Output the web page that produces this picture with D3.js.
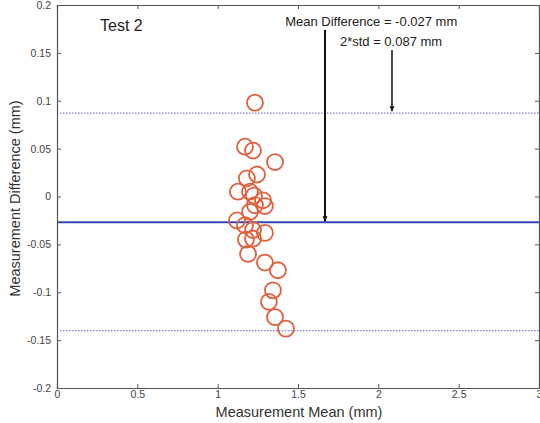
<!DOCTYPE html>
<html>
<head>
<meta charset="utf-8">
<script src="https://cdn.jsdelivr.net/npm/d3@7"></script>
<style>
  body { margin: 0; background: #fff; }
  text { font-family: "Liberation Sans", Arial, sans-serif; }
</style>
</head>
<body>
<div id="chart"></div>
<script>
// Bland-Altman style plot, Test 2
var meanX = [1.232, 1.170, 1.220, 1.357, 1.245, 1.182, 1.126, 1.201, 1.226, 1.282, 1.294, 1.232, 1.201,
             1.120, 1.170, 1.220, 1.294, 1.176, 1.220, 1.189, 1.294, 1.375, 1.344, 1.319, 1.357, 1.425];
var diffY = [0.098, 0.052, 0.048, 0.036, 0.023, 0.019, 0.005, 0.005, 0.001, -0.004, -0.010, -0.009, -0.016,
             -0.025, -0.030, -0.035, -0.038, -0.045, -0.044, -0.060, -0.069, -0.077, -0.098, -0.110, -0.126, -0.138];
var meanDiff = -0.027;
var limits = [0.087, -0.14];
var xTicks = [0, 0.5, 1, 1.5, 2, 2.5, 3];
var yTicks = [-0.2, -0.15, -0.1, -0.05, 0, 0.05, 0.1, 0.15, 0.2];

var width = 540, height = 423;
var margin = {top: 5, right: 1, bottom: 35, left: 57};

var xScale = d3.scaleLinear().domain([0, 3]).range([margin.left, width - margin.right]);
var yScale = d3.scaleLinear().domain([-0.2, 0.2]).range([height - margin.bottom, margin.top]);

var svg = d3.select("#chart").append("svg")
  .attr("width", width)
  .attr("height", height);

svg.append("defs").append("marker")
  .attr("id", "head")
  .attr("viewBox", "0 0 10 10")
  .attr("refX", 10).attr("refY", 5)
  .attr("markerWidth", 5).attr("markerHeight", 6)
  .attr("markerUnits", "userSpaceOnUse")
  .attr("orient", "auto")
  .append("path").attr("d", "M0,0 L10,5 L0,10 z").attr("fill", "#111");

// axes (matlab box style, ticks inside)
var axisColor = "#555";
var tickLen = 4;
function styleAxis(g) {
  g.select(".domain").attr("stroke", axisColor).attr("stroke-width", 1.2);
  g.selectAll(".tick line").attr("stroke", axisColor);
  g.selectAll(".tick text").attr("fill", "#444").style("font-size", "10.5px");
}

svg.append("g")
  .attr("transform", "translate(0," + yScale(-0.2) + ")")
  .call(d3.axisBottom(xScale).tickValues(xTicks).tickSize(-tickLen).tickPadding(3)
    .tickFormat(function(d) { return d; }))
  .call(styleAxis);

svg.append("g")
  .attr("transform", "translate(0," + yScale(0.2) + ")")
  .call(d3.axisTop(xScale).tickValues(xTicks).tickSize(-tickLen).tickFormat(""))
  .call(styleAxis);

svg.append("g")
  .attr("transform", "translate(" + xScale(0) + ",0)")
  .call(d3.axisLeft(yScale).tickValues(yTicks).tickSize(-tickLen).tickPadding(6)
    .tickFormat(function(d) { return d; }))
  .call(styleAxis);

svg.append("g")
  .attr("transform", "translate(" + xScale(3) + ",0)")
  .call(d3.axisRight(yScale).tickValues(yTicks).tickSize(-tickLen).tickFormat(""))
  .call(styleAxis);

// limit lines
svg.selectAll(".limit")
  .data(limits)
  .enter().append("line")
  .attr("class", "limit")
  .attr("x1", xScale(0) + 3).attr("x2", xScale(3))
  .attr("y1", function(d) { return yScale(d); })
  .attr("y2", function(d) { return yScale(d); })
  .attr("stroke", "#6a6ae0")
  .attr("stroke-width", 1.3)
  .attr("stroke-dasharray", "1.5 1.5")
  .attr("opacity", 0.85);

// mean line
svg.append("line")
  .attr("x1", xScale(0)).attr("x2", xScale(3))
  .attr("y1", yScale(meanDiff)).attr("y2", yScale(meanDiff))
  .attr("stroke", "#3348b8")
  .attr("stroke-width", 2);

// points
svg.selectAll(".pt")
  .data(meanX)
  .enter().append("circle")
  .attr("class", "pt")
  .attr("cx", function(d) { return xScale(d); })
  .attr("cy", function(d, i) { return yScale(diffY[i]); })
  .attr("r", 8)
  .attr("fill", "none")
  .attr("stroke", "#e0603c")
  .attr("stroke-width", 1.8);

// arrows
svg.append("line")
  .attr("x1", xScale(1.668)).attr("x2", xScale(1.668))
  .attr("y1", yScale(0.174)).attr("y2", yScale(meanDiff) - 1)
  .attr("stroke", "#111").attr("stroke-width", 2)
  .attr("marker-end", "url(#head)");

svg.append("line")
  .attr("x1", xScale(2.085)).attr("x2", xScale(2.085))
  .attr("y1", yScale(0.153)).attr("y2", yScale(limits[0]) - 2)
  .attr("stroke", "#111").attr("stroke-width", 1.5)
  .attr("marker-end", "url(#head)");

// texts
svg.append("text")
  .attr("x", xScale(0.268)).attr("y", yScale(0.173))
  .style("font-size", "16px").attr("fill", "#222")
  .text("Test 2");

svg.append("text")
  .attr("x", xScale(1.42)).attr("y", yScale(0.178))
  .style("font-size", "13px").attr("fill", "#222")
  .text("Mean Difference = -0.027 mm");

svg.append("text")
  .attr("x", xScale(1.761)).attr("y", yScale(0.157))
  .style("font-size", "13px").attr("fill", "#222")
  .text("2*std = 0.087 mm");

// axis labels
svg.append("text")
  .attr("x", 299).attr("y", 417)
  .attr("text-anchor", "middle")
  .style("font-size", "14.5px").attr("fill", "#333")
  .text("Measurement Mean (mm)");

svg.append("text")
  .attr("transform", "translate(20," + (yScale(0) + 2) + ") rotate(-90)")
  .attr("text-anchor", "middle")
  .style("font-size", "14.5px").attr("fill", "#333")
  .text("Measurement Difference (mm)");
</script>
</body>
</html>
